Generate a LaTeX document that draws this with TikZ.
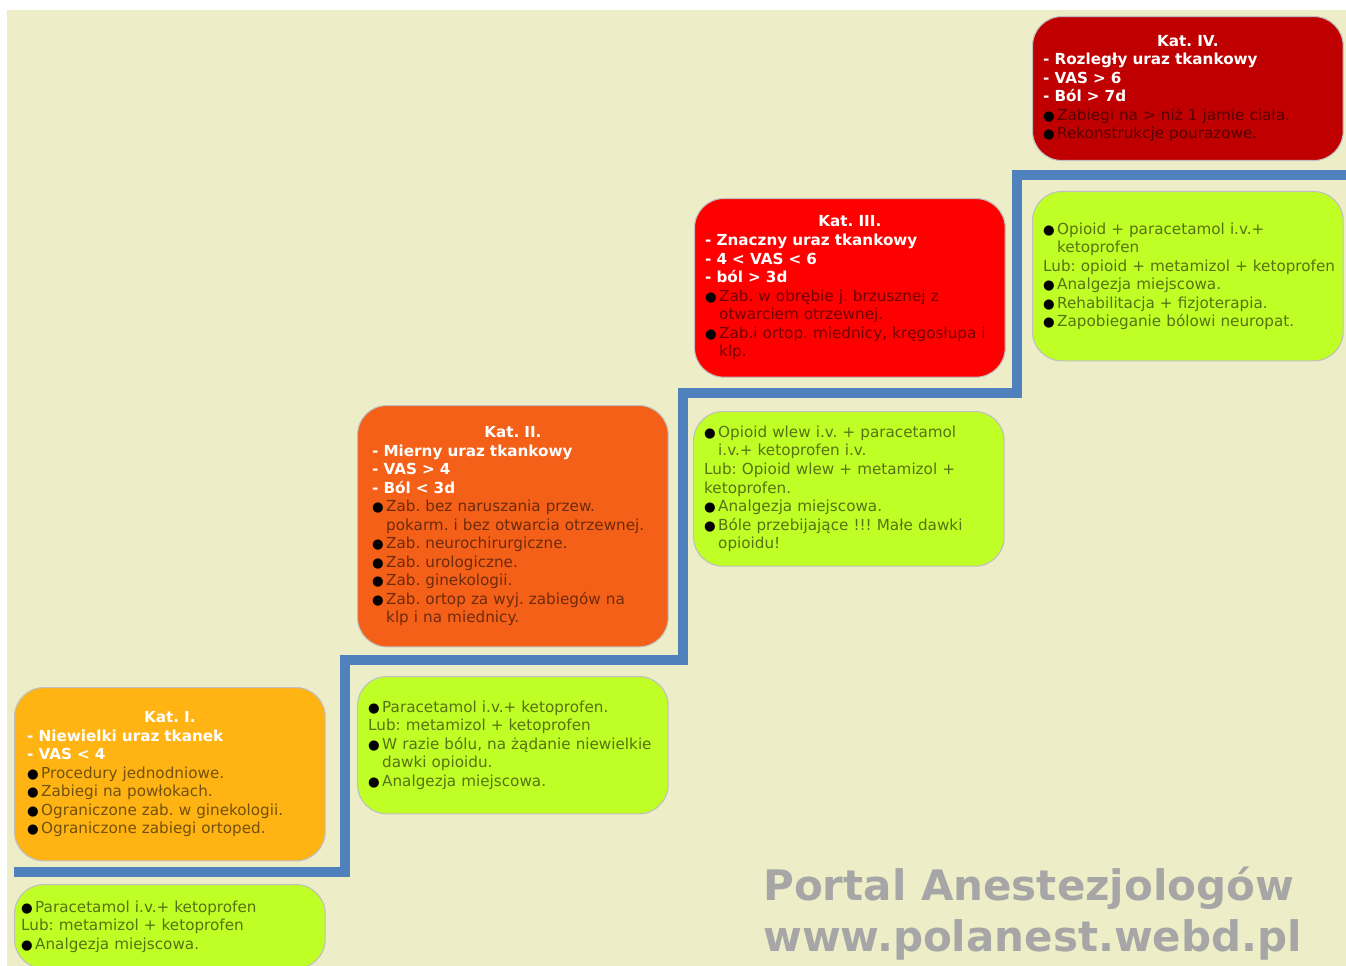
\documentclass[tikz,border=0pt]{standalone}
\usepackage{fontspec}
\setmainfont{DejaVu Sans}
\usepackage{tikz}
\frenchspacing
\hyphenpenalty=10000
\exhyphenpenalty=10000
\hbadness=10000
\hfuzz=20pt

\definecolor{tlo}{HTML}{EDEEC8}
\definecolor{schody}{HTML}{4F81BD}
\definecolor{katczw}{HTML}{C00000}
\definecolor{kattrz}{HTML}{FF0000}
\definecolor{katdwa}{HTML}{F46018}
\definecolor{katjed}{HTML}{FFB414}
\definecolor{leki}{HTML}{BFFF26}
\definecolor{znak}{HTML}{A6A6A6}

\newcommand{\kattitle}[1]{\noindent\makebox[\linewidth]{\bfseries\color{white}#1}\par}
\newcommand{\katdash}[1]{\noindent{\bfseries\color{white}- #1}\par}
\newcommand{\bul}[1]{\noindent\hangindent=10.5pt\hangafter=1\makebox[10.5pt][l]{\color{black}\fontsize{10}{10}\selectfont ●}#1\par}
\newcommand{\lub}[1]{\noindent #1\par}

\tikzset{
  box/.style={draw=black!25, line width=0.8pt, rounded corners=22pt,
    text width=217pt, inner xsep=8pt, inner ysep=4pt, align=left,
    anchor=north west, font=\fontsize{11.4}{13.9}\selectfont},
  kat/.style={box, fill=#1, text=black!55!#1},
  lek/.style={box, fill=leki, text=black!55!leki},
  stopien/.style={draw=schody, line width=7.5pt},
}

\begin{document}
\begin{tikzpicture}[x=0.75pt,y=-0.75pt]
\useasboundingbox (0,0) rectangle (1346,966);
\fill[white] (0,0) rectangle (1346,966);
\fill[tlo] (7,10) rectangle (1346,966);

% schody
\draw[stopien] (14,872) -| (345,660) -| (683,393) -| (1017,175) -- (1346,175);

% kategorie
\node[kat=katczw, minimum height=108pt] (katIV) at (1032,16) {%
  \kattitle{Kat. IV.}
  \katdash{Rozległy uraz tkankowy}
  \katdash{VAS > 6}
  \katdash{Ból > 7d}
  \bul{Zabiegi na > niż 1 jamie ciała.}
  \bul{Rekonstrukcje pourazowe.}};
\node[kat=kattrz, minimum height=134pt] (katIII) at (694,198) {%
  \kattitle{Kat. III.}
  \katdash{Znaczny uraz tkankowy}
  \katdash{4 < VAS < 6}
  \katdash{ból > 3d}
  \bul{Zab. w obrębie j. brzusznej z\newline otwarciem otrzewnej.}
  \bul{Zab.i ortop. miednicy, kręgosłupa i\newline klp.}};
\node[kat=katdwa, minimum height=181pt, inner xsep=11pt, text width=211pt] (katII) at (357,405) {%
  \kattitle{Kat. II.}
  \katdash{Mierny uraz tkankowy}
  \katdash{VAS > 4}
  \katdash{Ból < 3d}
  \bul{Zab. bez naruszania przew.\newline pokarm. i bez otwarcia otrzewnej.}
  \bul{Zab. neurochirurgiczne.}
  \bul{Zab. urologiczne.}
  \bul{Zab. ginekologii.}
  \bul{Zab. ortop za wyj. zabiegów na\newline klp i na miednicy.}};
\node[kat=katjed, minimum height=130pt, inner xsep=9.5pt, text width=214pt] (katI) at (14,687) {%
  \kattitle{Kat. I.}
  \katdash{Niewielki uraz tkanek}
  \katdash{VAS < 4}
  \bul{Procedury jednodniowe.}
  \bul{Zabiegi na powłokach.}
  \bul{Ograniczone zab. w ginekologii.}
  \bul{Ograniczone zabiegi ortoped.}};

% leczenie
\node[lek, minimum height=127pt] (lekIV) at (1032,191) {%
  \bul{Opioid + paracetamol i.v.+\newline ketoprofen}
  \lub{\mbox{Lub: opioid + metamizol + ketoprofen}}
  \bul{Analgezja miejscowa.}
  \bul{Rehabilitacja + fizjoterapia.}
  \bul{Zapobieganie bólowi neuropat.}};
\node[lek, minimum height=116pt] (lekIII) at (693,411) {%
  \bul{Opioid wlew i.v. + paracetamol\newline i.v.+ ketoprofen i.v.}
  \lub{Lub: Opioid wlew + metamizol +\newline ketoprofen.}
  \bul{Analgezja miejscowa.}
  \bul{Bóle przebijające !!! Małe dawki\newline opioidu!}};
\node[lek, minimum height=103pt] (lekII) at (357,676) {%
  \bul{Paracetamol i.v.+ ketoprofen.}
  \lub{Lub: metamizol + ketoprofen}
  \bul{W razie bólu, na żądanie niewielkie\newline dawki opioidu.}
  \bul{Analgezja miejscowa.}};
\node[lek, minimum height=63pt, inner xsep=5pt, text width=223pt] (lekI) at (14,884) {%
  \bul{Paracetamol i.v.+ ketoprofen}
  \lub{Lub: metamizol + ketoprofen}
  \bul{Analgezja miejscowa.}};

% znak
\node[anchor=base west, inner sep=0pt, text=znak, font=\fontsize{31.5}{31.5}\selectfont\bfseries] (portal) at (763,900) {Portal Anestezjologów};
\node[anchor=base west, inner sep=0pt, text=znak, font=\fontsize{31.5}{31.5}\selectfont\bfseries] (adres) at (763,951) {www.polanest.webd.pl};
\end{tikzpicture}
\end{document}
